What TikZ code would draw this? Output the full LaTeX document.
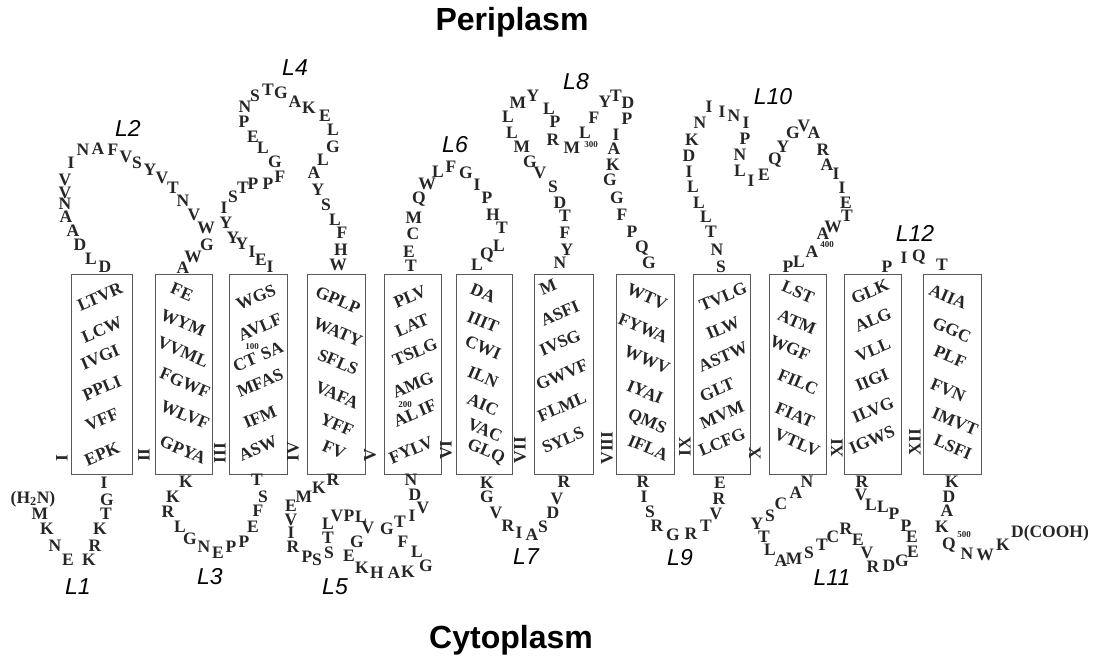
\documentclass[tikz,border=0pt]{standalone}
\usepackage{fontspec}
\setmainfont{Liberation Serif}
\setsansfont{Liberation Sans}
\begin{document}
\begin{tikzpicture}[x=1pt, y=-1pt,
  aares/.style = {font=\fontsize{17.5}{17.5}\selectfont\bfseries, text=black!85, inner sep=0pt},
  aanum/.style = {font=\fontsize{9}{9}\selectfont\bfseries, text=black!85, inner sep=0pt},
  tmbox/.style = {draw=black!65, line width=0.9pt, minimum height=200pt, inner sep=0pt},
  tmup/.style = {aares, rotate=23},
  tmdown/.style = {aares, rotate=-23},
  helixnum/.style = {aares, rotate=90},
  loopname/.style = {font=\fontsize{23}{23}\selectfont\sffamily\itshape},
  sidename/.style = {font=\fontsize{32}{32}\selectfont\sffamily\bfseries}
]
  \useasboundingbox (0,0) rectangle (1095,660);
  % sides of the membrane
  \node[sidename] (peri) at (512,22) {Periplasm};
  \node[sidename] (cyto) at (511,640) {Cytoplasm};
  % helix boxes
  \foreach \n/\cx/\w in {1/102.2/61, 2/184/57.4, 3/258.4/57.8, 4/336.2/57.7,
      5/412.9/57.7, 6/484.5/55.6, 7/563.7/59.3, 8/645/58, 9/722/57.4,
      10/797.9/57.7, 11/872.5/57, 12/952.5/58.4}
    \node[tmbox, minimum width=\w pt] (tm\n) at (\cx,374.3) {};
  % helix numbers
  \foreach \x/\y/\r [count=\k] in {62/458/I, 144/455/II, 220/453/III, 293/452/IV,
      370/455/V, 446/450/VI, 520/450/VII, 607/448/VIII, 685/447/IX, 755/453/X,
      837/448/XI, 915/442/XII}
    \node[helixnum] (hn\k) at (\x,\y) {\r};
  % residues inside the helices
  \foreach \x/\y/\t [count=\k] in {100/297/LTVR, 102/330/LCW, 100/357/IVGI, 102/388/PPLI,
      102/420/VFF, 102/454/EPK, 256/297/WGS, 260/327/AVLF, 258/357/CT\,\,SA,
      260/383/MFAS, 260/417/IFM, 258/448/ASW, 410/297/PLV, 412/325/LAT,
      415/352/TSLG, 413/385/AMG, 415/413/AL\,IF, 411/450/FYLV, 548/287/M,
      560/313/ASFI, 560/343/IVSG, 562/375/GWVF, 562/407/FLML, 563/440/SYLS,
      723/297/TVLG, 723/328/ILW, 723/357/ASTW, 717/390/GLT, 722/415/MVM,
      722/442/LCFG, 870/292/GLK, 873/320/ALG, 873/350/VLL, 872/380/IIGI,
      873/410/ILVG, 872/440/IGWS}
    \node[tmup] (up\k) at (\x,\y) {\t};
  \foreach \x/\y/\t [count=\k] in {182/292/FE, 183/323/WYM, 183/352/VVML, 185/383/FGWF,
      185/415/WLVF, 183/450/GPYA, 338/300/GPLP, 338/332/WATY, 338/362/SFLS,
      337/395/VAFA, 337/425/YFF, 334/450/FV, 483/293/DA, 483/322/IIIT,
      483/348/CWI, 483/377/ILN, 483/405/AIC, 485/430/VAC, 486/452/GLQ,
      647/297/WTV, 643/328/FYWA, 647/360/WWV, 645/392/IYAI, 647/422/QMS,
      648/448/IFLA, 798/292/LST, 797/322/ATM, 790/348/WGF, 798/382/FILC,
      795/415/FIAT, 797/443/VTLV, 948/297/AIIA, 952/330/GGC, 950/357/PLF,
      948/390/FVN, 955/422/IMVT, 953/447/LSFI}
    \node[tmdown] (dn\k) at (\x,\y) {\t};
  % residue numbers
  \node[aanum] (n100) at (252,347) {100};
  \node[aanum] (n200) at (405,405) {200};
  \node[aanum] (n300) at (591,145) {300};
  \node[aanum] (n400) at (827,245) {400};
  \node[aanum] (n500) at (964,535) {500};
  % cytoplasmic loops
  \node[aares] (nterm) at (33,499) {(H\textsubscript{2}N)};
  \foreach \x/\y/\r [count=\k] in {40/514/M, 47/529/K, 55/546/N, 68/560/E, 89/560/K,
      95/546/R, 100/529/K, 106/514/T, 107/500/G, 104/483/I}
    \node[aares] (lA\k) at (\x,\y) {\r};
  \foreach \x/\y/\r [count=\k] in {186/482/K, 173/497/K, 168/512/R, 180/527/L, 190/539/G,
      204/547/N, 218/553/E, 231/547/P, 244/542/P, 253/527/E, 258/511/F,
      263/497/S, 257/480/T}
    \node[aares] (lC\k) at (\x,\y) {\r};
  \foreach \x/\y/\r [count=\k] in {333/480/R, 319/488/K, 304/497/M, 291/506/E, 291/520/V,
      291/533/I, 293/547/R, 307/557/P, 317/560/S, 329/553/S, 328/538/T,
      328/524/L, 337/516/V, 349/516/P, 361/517/L, 368/528/V, 357/542/G,
      349/556/E, 362/568/K, 377/573/H, 394/573/A, 408/572/K, 426/566/G,
      417/552/L, 403/542/F, 387/529/G, 400/522/T, 412/516/I, 423/508/V,
      415/495/D, 411/480/N}
    \node[aares] (lE\k) at (\x,\y) {\r};
  \foreach \x/\y/\r [count=\k] in {487/483/K, 487/497/G, 496/513/V, 508/526/R, 519/533/I,
      532/535/A, 543/527/S, 553/513/D, 557/499/V, 564/482/R}
    \node[aares] (lG\k) at (\x,\y) {\r};
  \foreach \x/\y/\r [count=\k] in {643/482/R, 644/497/I, 650/512/S, 657/526/R, 673/535/G,
      691/534/R, 706/526/T, 716/514/V, 719/499/R, 720/483/E}
    \node[aares] (lI\k) at (\x,\y) {\r};
  \foreach \x/\y/\r [count=\k] in {807/482/N, 796/493/A, 781/504/C, 770/516/S, 757/524/Y,
      764/537/T, 770/550/L, 781/561/A, 794/559/M, 809/553/S, 822/545/T,
      833/537/C, 846/529/R, 858/540/E, 867/553/V, 873/567/R, 889/566/D,
      902/561/G, 913/552/E, 912/537/E, 906/526/P, 894/514/P, 883/507/L,
      871/505/L, 861/495/V, 862/482/R}
    \node[aares] (lK\k) at (\x,\y) {\r};
  \foreach \x/\y/\r [count=\k] in {952/482/K, 949/497/D, 947/511/A, 942/527/K, 949/545/Q,
      967/554/N, 985/555/W, 1003/545/K}
    \node[aares] (lM\k) at (\x,\y) {\r};
  \node[aares] (cterm) at (1050,533) {D(COOH)};
  % periplasmic loops
  \foreach \x/\y/\r [count=\k] in {105/267/D, 91/259/L, 80/245/D, 73/231/A, 66/217/A,
      65/204/N, 65/193/V, 65/180/V, 71/163/I, 83/150/N, 98/149/A, 113/150/F,
      126/157/V, 137/163/S, 150/170/Y, 162/178/V, 173/188/T, 183/201/N,
      194/215/V, 206/228/W, 207/245/G, 193/257/W, 183/268/A}
    \node[aares] (lB\k) at (\x,\y) {\r};
  \foreach \x/\y/\r [count=\k] in {270/267/I, 261/260/E, 252/252/I, 242/244/Y, 233/238/Y,
      226/223/Y, 224/208/I, 233/197/S, 243/188/T, 253/184/P, 268/184/P,
      280/177/F, 275/162/G, 263/148/L, 253/137/E, 244/122/P, 245/107/N,
      255/96/S, 268/90/T, 281/93/G, 295/102/A, 309/108/K, 325/116/E,
      333/130/L, 333/147/G, 323/160/L, 314/173/A, 318/190/Y, 326/205/S,
      335/220/L, 342/233/F, 341/250/H, 338/265/W}
    \node[aares] (lD\k) at (\x,\y) {\r};
  \foreach \x/\y/\r [count=\k] in {411/266/T, 409/252/E, 413/234/C, 414/218/M, 419/199/Q,
      427/184/W, 438/172/L, 451/167/F, 466/173/G, 477/185/I, 487/198/P,
      493/215/H, 502/228/T, 499/246/L, 487/255/Q, 477/265/L}
    \node[aares] (lF\k) at (\x,\y) {\r};
  \foreach \x/\y/\r [count=\k] in {560/263/N, 567/250/Y, 565/233/F, 565/216/T, 560/203/D,
      553/187/S, 540/173/V, 530/162/G, 522/147/M, 512/133/L, 508/117/L,
      518/103/M, 533/96/Y, 549/109/L, 555/122/P, 553/140/R, 572/148/M,
      585/133/L, 594/118/F, 605/102/Y, 616/96/T, 628/103/D, 627/119/P,
      616/135/I, 614/149/A, 613/165/K, 610/180/G, 617/198/G, 622/215/F,
      632/232/P, 642/248/Q, 649/263/G}
    \node[aares] (lH\k) at (\x,\y) {\r};
  \foreach \x/\y/\r [count=\k] in {721/267/S, 717/250/N, 711/232/T, 706/217/L, 699/203/L,
      693/187/L, 689/172/I, 689/156/D, 692/140/K, 700/123/N, 709/107/I,
      722/112/I, 734/116/N, 746/123/I, 745/139/P, 740/155/N, 740/171/L,
      751/181/I, 764/175/E, 775/160/Q, 783/147/Y, 793/133/G, 804/126/V,
      814/133/A, 823/150/R, 827/165/A, 836/174/I, 842/188/I, 846/203/E,
      847/216/T, 833/227/W, 823/234/A, 812/252/A, 799/262/L, 788/267/P}
    \node[aares] (lJ\k) at (\x,\y) {\r};
  \foreach \x/\y/\r [count=\k] in {887/267/P, 904/258/I, 919/257/Q, 942/265/T}
    \node[aares] (lL\k) at (\x,\y) {\r};
  % loop names
  \foreach \x/\y/\n in {78/587/1, 128/128/2, 210/577/3, 295/68/4, 335/587/5, 455/145/6,
      526/557/7, 576/82/8, 680/558/9, 773/97/10, 832/578/11, 915/233/12}
    \node[loopname] (L\n) at (\x,\y) {L\n};
\end{tikzpicture}
\end{document}
